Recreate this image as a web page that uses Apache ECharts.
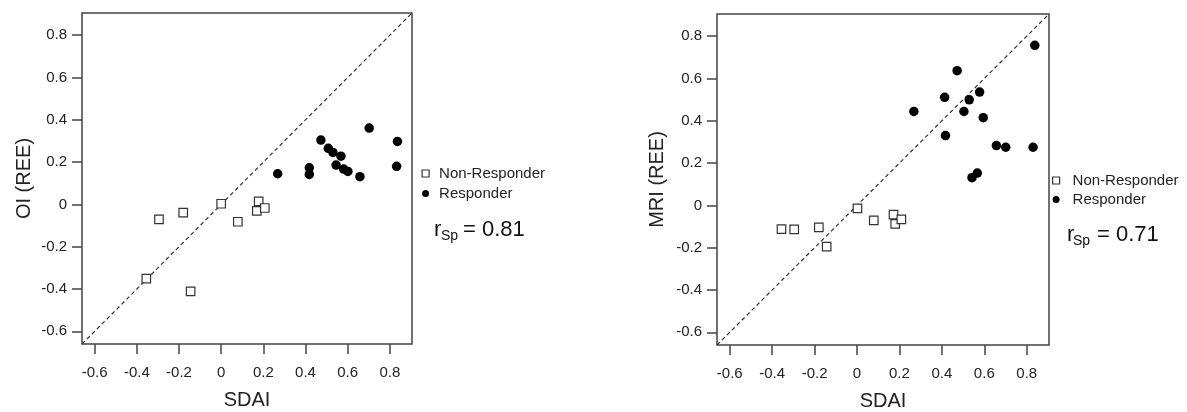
<!DOCTYPE html>
<html>
<head>
<meta charset="utf-8">
<script src="https://cdn.jsdelivr.net/npm/echarts@6/dist/echarts.min.js"></script>
<style>
  html, body { margin: 0; padding: 0; background: #fff; }
  #chart { width: 1187px; height: 412px; }
</style>
</head>
<body>
<div id="chart"></div>
<script>
// ---- data ----
const tickValues = [-0.6, -0.4, -0.2, 0, 0.2, 0.4, 0.6, 0.8];
const axisMin = -0.66;
const axisMax = 0.905;

const oiNonX  = [-0.355, -0.295, -0.180, -0.145, 0.000, 0.079, 0.169, 0.178, 0.207];
const oiNonY  = [-0.351, -0.071, -0.039, -0.411, 0.003, -0.082, -0.031, 0.014, -0.017];
const oiRespX = [0.268, 0.418, 0.418, 0.473, 0.508, 0.530, 0.568, 0.545, 0.581, 0.601, 0.658, 0.702, 0.836, 0.832];
const oiRespY = [0.145, 0.173, 0.142, 0.304, 0.265, 0.246, 0.228, 0.186, 0.167, 0.156, 0.131, 0.361, 0.298, 0.180];

const mriNonX  = [-0.356, -0.296, -0.180, -0.143, 0.002, 0.079, 0.172, 0.180, 0.209];
const mriNonY  = [-0.112, -0.113, -0.104, -0.195, -0.014, -0.071, -0.044, -0.087, -0.066];
const mriRespX = [0.268, 0.413, 0.417, 0.472, 0.504, 0.529, 0.578, 0.595, 0.542, 0.567, 0.657, 0.701, 0.830, 0.838];
const mriRespY = [0.444, 0.511, 0.330, 0.637, 0.444, 0.499, 0.536, 0.415, 0.131, 0.153, 0.283, 0.275, 0.275, 0.757];

const yTitles = ['OI (REE)', 'MRI (REE)'];
const xTitle = 'SDAI';
const groupNames = ['Non-Responder', 'Responder'];
const rSp = ['0.81', '0.71'];

// ---- helpers ----
const FONT = "'Liberation Sans', Arial, sans-serif";
const zip = (xs, ys) => xs.map((x, i) => [x, ys[i]]);
const fmt = v => (Math.abs(v) < 1e-9 ? '0' : String(+v.toFixed(1)));

const grids = [
  { left: 82, top: 13, width: 330, height: 331 },
  { left: 717, top: 14, width: 332, height: 331 }
];

function xAxisFor(i) {
  return {
    gridIndex: i, type: 'value', min: axisMin, max: axisMax, position: 'bottom',
    axisLine: { show: false, onZero: false }, splitLine: { show: false },
    axisTick: { show: true, length: 10, customValues: tickValues, lineStyle: { color: '#444', width: 1.5 } },
    axisLabel: { customValues: tickValues, formatter: fmt, fontSize: 15, color: '#222', margin: 21, fontFamily: FONT },
    name: xTitle, nameLocation: 'middle', nameGap: 46,
    nameTextStyle: { fontSize: 20, color: '#222', fontFamily: FONT }
  };
}
function yAxisFor(i) {
  return {
    gridIndex: i, type: 'value', min: axisMin, max: axisMax, position: 'left',
    axisLine: { show: false, onZero: false }, splitLine: { show: false },
    axisTick: { show: true, length: 10, customValues: tickValues, lineStyle: { color: '#444', width: 1.5 } },
    axisLabel: { customValues: tickValues, formatter: fmt, fontSize: 15, color: '#222', margin: 15, fontFamily: FONT },
    name: yTitles[i], nameLocation: 'middle', nameGap: i === 0 ? 48 : 50,
    nameTextStyle: { fontSize: 20, color: '#222', fontFamily: FONT }
  };
}

const nonStyle = { color: '#fff', borderColor: '#333', borderWidth: 1.2, opacity: 1 };
const respStyle = { color: '#000', opacity: 1 };

function seriesFor(i, nonX, nonY, respX, respY) {
  return [
    {
      type: 'line', xAxisIndex: i, yAxisIndex: i, silent: true, symbol: 'none',
      data: [[axisMin, axisMin], [axisMax, axisMax]],
      lineStyle: { color: '#333', width: 1.2, type: [4, 3] }, z: 1
    },
    {
      name: groupNames[0], type: 'scatter', xAxisIndex: i, yAxisIndex: i,
      symbol: 'rect', symbolSize: 8.5, data: zip(nonX, nonY), itemStyle: nonStyle, z: 3
    },
    {
      name: groupNames[1], type: 'scatter', xAxisIndex: i, yAxisIndex: i,
      symbol: 'circle', symbolSize: 9.5, data: zip(respX, respY), itemStyle: respStyle, z: 3
    }
  ];
}

function legendFor(left, top, gap, textPad) {
  return {
    orient: 'vertical', left: left, top: top, padding: 0, itemWidth: 7, itemHeight: 7, itemGap: gap,
    selectedMode: false,
    textStyle: { fontSize: 15, color: '#222', fontFamily: FONT, lineHeight: 14, padding: [0, 0, 0, textPad] },
    data: [
      { name: groupNames[0], icon: 'rect', itemStyle: nonStyle },
      { name: groupNames[1], icon: 'circle', itemStyle: respStyle }
    ]
  };
}

function rText(x, y, size, subSize, subDy, value, eqX, subX) {
  return [
    { type: 'text', x: x, y: y, style: { text: 'r', fontSize: size, fill: '#111', fontFamily: FONT, verticalAlign: 'middle' } },
    { type: 'text', x: subX, y: y + subDy, style: { text: 'Sp', fontSize: subSize, fill: '#111', fontFamily: FONT, verticalAlign: 'middle' } },
    { type: 'text', x: eqX, y: y, style: { text: '= ' + value, fontSize: size, fill: '#111', fontFamily: FONT, verticalAlign: 'middle' } }
  ];
}

const option = {
  backgroundColor: '#fff',
  animation: false,
  grid: grids.map(g => Object.assign({
    show: true, borderColor: '#444', borderWidth: 1.5, backgroundColor: 'transparent',
    containLabel: false, outerBoundsMode: 'none'
  }, g)),
  xAxis: [xAxisFor(0), xAxisFor(1)],
  yAxis: [yAxisFor(0), yAxisFor(1)],
  legend: [legendFor(421.5, 166, 5, 5), legendFor(1052, 173, 4, 8)],
  series: [].concat(
    seriesFor(0, oiNonX, oiNonY, oiRespX, oiRespY),
    seriesFor(1, mriNonX, mriNonY, mriRespX, mriRespY)
  ),
  graphic: [].concat(
    rText(434, 230, 22, 14, 6, rSp[0], 463, 441),
    rText(1067, 235, 22, 14, 6, rSp[1], 1097, 1073)
  )
};

const chart = echarts.init(document.getElementById('chart'), null, { renderer: 'canvas' });
chart.setOption(option);
</script>
</body>
</html>
